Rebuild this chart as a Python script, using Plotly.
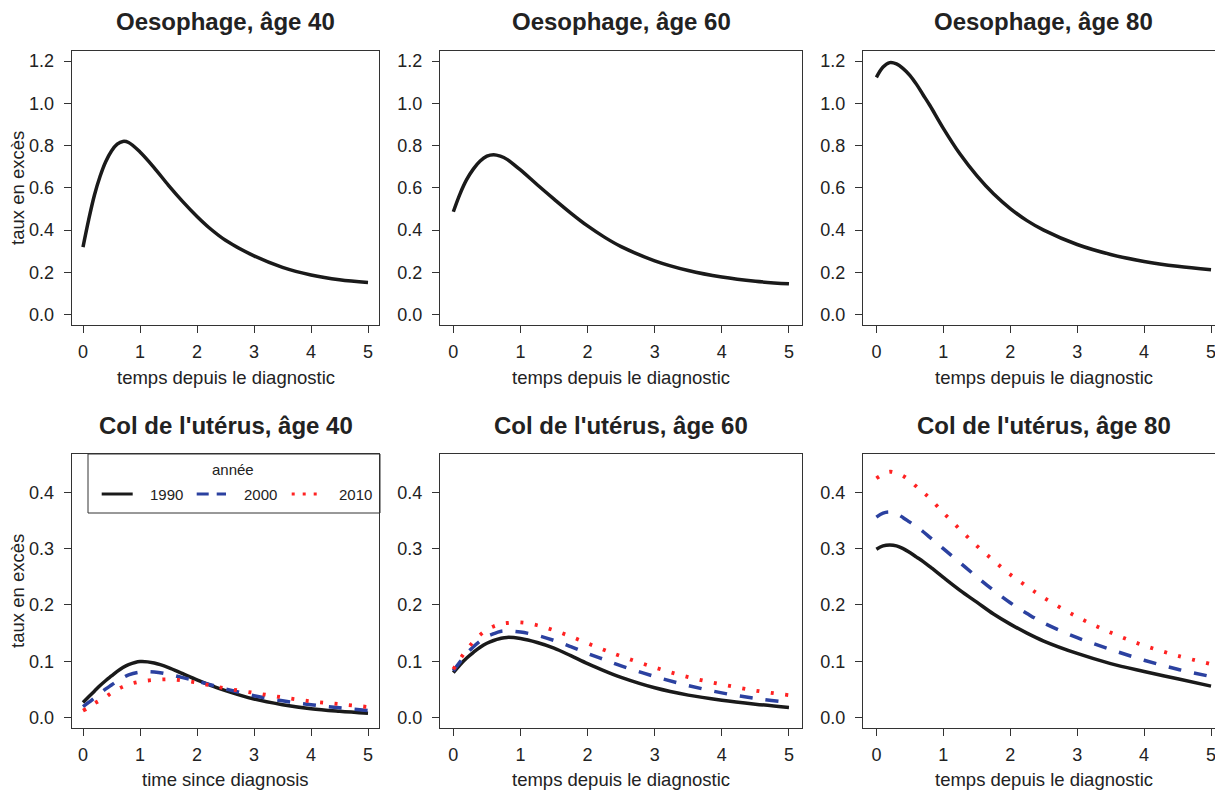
import plotly.graph_objects as go

# ---------------- data ----------------
t = [0, 0.1, 0.2, 0.3, 0.4, 0.5, 0.6, 0.7, 0.8, 1.0, 1.25, 1.5, 1.75, 2.0, 2.25, 2.5, 3.0, 3.5, 4.0, 4.5, 5.0]

oeso_40 = [0.32, 0.45, 0.565, 0.655, 0.725, 0.775, 0.807, 0.82, 0.815, 0.77, 0.695, 0.612, 0.535, 0.465, 0.403, 0.352, 0.278, 0.224, 0.188, 0.165, 0.152]
oeso_60 = [0.487, 0.572, 0.64, 0.69, 0.727, 0.75, 0.757, 0.75, 0.735, 0.685, 0.615, 0.547, 0.481, 0.42, 0.367, 0.322, 0.255, 0.209, 0.178, 0.158, 0.146]
oeso_80 = [1.123, 1.172, 1.193, 1.187, 1.165, 1.133, 1.09, 1.04, 0.99, 0.882, 0.76, 0.658, 0.572, 0.502, 0.445, 0.40, 0.332, 0.285, 0.252, 0.229, 0.213]

col40_1990 = [0.027, 0.037, 0.047, 0.057, 0.066, 0.074, 0.082, 0.089, 0.094, 0.0995, 0.097, 0.089, 0.078, 0.067, 0.057, 0.048, 0.033, 0.023, 0.016, 0.0115, 0.008]
col40_2000 = [0.0195, 0.027, 0.035, 0.043, 0.051, 0.058, 0.065, 0.071, 0.076, 0.081, 0.081, 0.077, 0.071, 0.065, 0.058, 0.051, 0.039, 0.030, 0.023, 0.0175, 0.0125]
col40_2010 = [0.0124, 0.018, 0.025, 0.031, 0.037, 0.044, 0.050, 0.055, 0.059, 0.064, 0.067, 0.068, 0.066, 0.062, 0.057, 0.052, 0.044, 0.036, 0.029, 0.024, 0.019]

col60_1990 = [0.080, 0.094, 0.106, 0.116, 0.125, 0.132, 0.137, 0.1405, 0.1425, 0.1405, 0.1335, 0.1235, 0.110, 0.096, 0.083, 0.0715, 0.053, 0.040, 0.031, 0.024, 0.018]
col60_2000 = [0.083, 0.099, 0.114, 0.126, 0.136, 0.144, 0.149, 0.153, 0.154, 0.152, 0.146, 0.137, 0.126, 0.114, 0.103, 0.092, 0.073, 0.057, 0.044, 0.034, 0.027]
col60_2010 = [0.086, 0.104, 0.121, 0.135, 0.147, 0.156, 0.162, 0.166, 0.168, 0.169, 0.164, 0.155, 0.144, 0.132, 0.120, 0.109, 0.089, 0.072, 0.059, 0.048, 0.040]

col80_1990 = [0.299, 0.305, 0.3065, 0.305, 0.300, 0.293, 0.285, 0.277, 0.268, 0.249, 0.226, 0.205, 0.184, 0.166, 0.150, 0.136, 0.114, 0.096, 0.082, 0.069, 0.056]
col80_2000 = [0.356, 0.363, 0.365, 0.362, 0.355, 0.347, 0.339, 0.330, 0.320, 0.300, 0.275, 0.250, 0.226, 0.204, 0.185, 0.168, 0.142, 0.121, 0.102, 0.086, 0.073]
col80_2010 = [0.425, 0.432, 0.4365, 0.434, 0.429, 0.421, 0.410, 0.400, 0.389, 0.364, 0.334, 0.305, 0.279, 0.254, 0.233, 0.213, 0.179, 0.151, 0.128, 0.110, 0.095]

titles_top = ["Oesophage, âge 40", "Oesophage, âge 60", "Oesophage, âge 80"]
titles_bottom = ["Col de l'utérus, âge 40", "Col de l'utérus, âge 60", "Col de l'utérus, âge 80"]
xlabels_top = ["temps depuis le diagnostic"] * 3
xlabels_bottom = ["time since diagnosis", "temps depuis le diagnostic", "temps depuis le diagnostic"]
ylabel = "taux en excès"
years = ["1990", "2000", "2010"]
legend_title = "année"

x_ticks = [0, 1, 2, 3, 4, 5]
y_ticks_top = [0.0, 0.2, 0.4, 0.6, 0.8, 1.0, 1.2]
y_ticks_bottom = [0.0, 0.1, 0.2, 0.3, 0.4]

# ---------------- layout helpers ----------------
PAGE_W, PAGE_H = 1223, 794
OFF = 8  # default page body margin
W, H = PAGE_W - OFF, PAGE_H - OFF
FONT = "Liberation Sans, Arial, Helvetica, sans-serif"
TXT = "#222222"
AX = "#333333"


def px(x):
    return (x - OFF) / W


def py(y):
    return 1 - (y - OFF) / H


col_px = [(71.6, 379.4), (439.9, 802.4), (863.0, 1223.0)]
col_xrange = [[-0.2, 5.2], [-0.2, 5.2], [-0.2, 5.179]]
row_px = [(51.0, 324.8), (454.0, 727.8)]
row_yrange = [[-0.048, 1.248], [-0.018, 0.468]]

styles = {
    "1990": dict(color="#1a1a1a", width=3.5, dash="solid"),
    "2000": dict(color="#2B41A0", width=3.5, dash="13px,13px"),
    "2010": dict(color="#FF2222", width=3.8, dash="3px,11.5px"),
}

fig = go.Figure()

panels = [
    (0, 0, [("1990", oeso_40)]),
    (0, 1, [("1990", oeso_60)]),
    (0, 2, [("1990", oeso_80)]),
    (1, 0, [("1990", col40_1990), ("2000", col40_2000), ("2010", col40_2010)]),
    (1, 1, [("1990", col60_1990), ("2000", col60_2000), ("2010", col60_2010)]),
    (1, 2, [("1990", col80_1990), ("2000", col80_2000), ("2010", col80_2010)]),
]

annotations = []
for k, (r, c, series) in enumerate(panels):
    idx = k + 1
    xa = "x" if idx == 1 else f"x{idx}"
    ya = "y" if idx == 1 else f"y{idx}"
    for name, vals in series:
        fig.add_trace(go.Scatter(
            x=t, y=vals, mode="lines", name=name, showlegend=False,
            line=dict(shape="spline", smoothing=1.0, **styles[name]),
            xaxis=xa, yaxis=ya, hoverinfo="skip"))
    x0, x1 = col_px[c]
    y0, y1 = row_px[r]
    common = dict(showline=True, mirror=True, linecolor=AX, linewidth=1,
                  ticks="outside", ticklen=7, tickwidth=1, tickcolor=AX,
                  showgrid=False, zeroline=False,
                  tickfont=dict(family=FONT, size=18, color=TXT))
    fig.layout[("xaxis" if idx == 1 else f"xaxis{idx}")] = dict(
        domain=[px(x0), min(1.0, px(x1))], range=col_xrange[c], anchor=ya,
        tickmode="array", tickvals=x_ticks, ticktext=[str(v) for v in x_ticks],
        ticklabelstandoff=4, **common)
    yt = y_ticks_top if r == 0 else y_ticks_bottom
    fig.layout[("yaxis" if idx == 1 else f"yaxis{idx}")] = dict(
        domain=[py(y1), py(y0)], range=row_yrange[r], anchor=xa,
        tickmode="array", tickvals=yt, ticktext=[f"{v:.1f}" for v in yt],
        ticklabelstandoff=6, **common)
    cx = (x0 + x1) / 2 if c < 2 else (863.0 + 1224.7) / 2
    title = titles_top[c] if r == 0 else titles_bottom[c]
    xl = xlabels_top[c] if r == 0 else xlabels_bottom[c]
    ty = 22 if r == 0 else 425
    ly = 378 if r == 0 else 779
    annotations.append(dict(text=f"<b>{title}</b>", x=px(cx), y=py(ty), xref="paper", yref="paper",
                            xanchor="center", yanchor="middle", showarrow=False,
                            font=dict(family=FONT, size=24, color=TXT)))
    annotations.append(dict(text=xl, x=px(cx), y=py(ly), xref="paper", yref="paper",
                            xanchor="center", yanchor="middle", showarrow=False,
                            font=dict(family=FONT, size=18.5, color=TXT)))
    if c == 0:
        annotations.append(dict(text=ylabel, x=px(18), y=py((y0 + y1) / 2), xref="paper", yref="paper",
                                xanchor="center", yanchor="middle", showarrow=False, textangle=-90,
                                font=dict(family=FONT, size=18.5, color=TXT)))

# ---------------- legend (drawn in the first "Col" panel) ----------------
shapes = [dict(type="rect", xref="paper", yref="paper", x0=px(88), x1=px(380), y0=py(513), y1=py(454),
               line=dict(color=AX, width=1), fillcolor="rgba(0,0,0,0)")]
annotations.append(dict(text=legend_title, x=px(233), y=py(469), xref="paper", yref="paper",
                        xanchor="center", yanchor="middle", showarrow=False,
                        font=dict(family=FONT, size=15, color=TXT)))
leg_lines = [(101.7, 132.7, 148), (196.7, 226, 242), (291.7, 324, 337)]
leg_dash = {"1990": "solid", "2000": "12px,8px", "2010": "3px,8px"}
for name, (lx0, lx1, tx) in zip(years, leg_lines):
    st = styles[name]
    shapes.append(dict(type="line", xref="paper", yref="paper", x0=px(lx0), x1=px(lx1),
                       y0=py(494), y1=py(494),
                       line=dict(color=st["color"], width=st["width"] * 0.85, dash=leg_dash[name])))
    annotations.append(dict(text=name, x=px(tx), y=py(494), xref="paper", yref="paper",
                            xanchor="left", yanchor="middle", showarrow=False,
                            font=dict(family=FONT, size=15, color=TXT)))

fig.update_layout(width=W, height=H, margin=dict(l=0, r=0, t=0, b=0),
                  paper_bgcolor="white", plot_bgcolor="white",
                  annotations=annotations, shapes=shapes, showlegend=False)

fig.write_html("out.html")
